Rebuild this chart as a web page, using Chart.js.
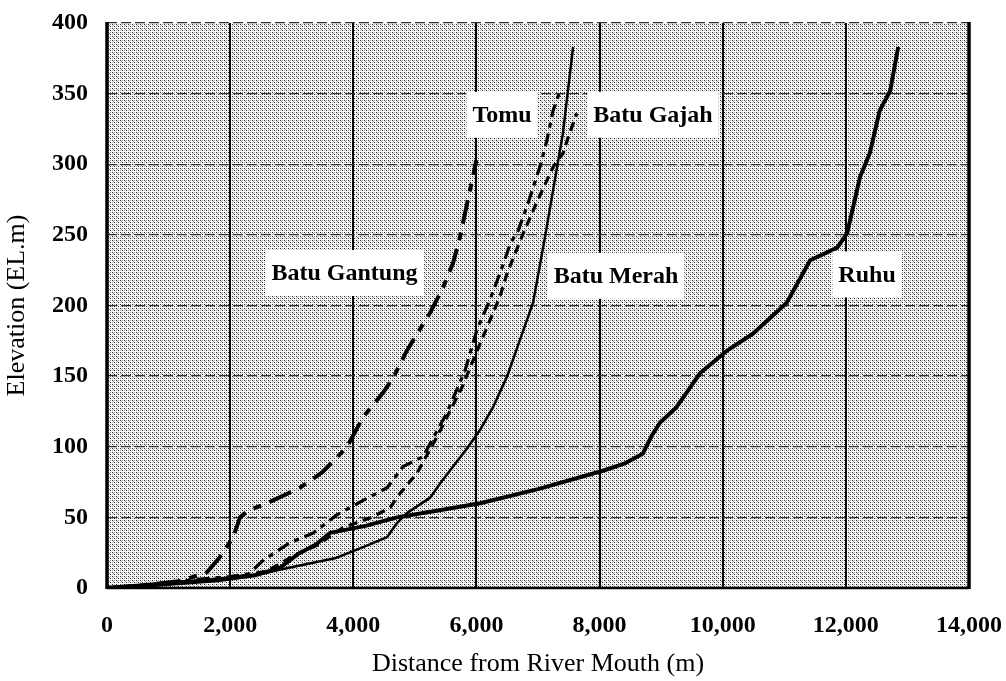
<!DOCTYPE html>
<html>
<head>
<meta charset="utf-8">
<script src="https://cdn.jsdelivr.net/npm/chart.js@4/dist/chart.umd.min.js"></script>
<style>
  html, body { margin: 0; padding: 0; background: #ffffff; }
  #c { display: block; width: 1006px; height: 681px; }
</style>
</head>
<body>
<canvas id="c" width="1006" height="681"></canvas>
<script>
// ---------------- data ----------------
const xTickValues = [0, 2000, 4000, 6000, 8000, 10000, 12000, 14000];
const yTickValues = [0, 50, 100, 150, 200, 250, 300, 350, 400];

const ruhuX = [0, 600, 1200, 1800, 2400, 2800, 3100, 3400, 3620, 4200, 4710, 5400, 6060, 7000, 8055, 8400, 8700, 8850, 8980, 9250, 9630, 10070, 10490, 11040, 11420, 11860, 12020, 12230, 12390, 12550, 12720, 12850];
const ruhuY = [0, 2, 4, 6, 9, 14, 24, 31, 39, 44, 50, 55, 60, 70, 83, 88, 95, 108, 117, 128, 152, 168, 180, 202, 232, 241, 251, 291, 308, 338, 352, 383];

const merahX = [0, 600, 1200, 1800, 2300, 2700, 3250, 3700, 4160, 4550, 4710, 4870, 5250, 5410, 5620, 5850, 6060, 6270, 6500, 6710, 6920, 7120, 7405, 7570];
const merahY = [0, 1, 3, 5, 8, 12, 17, 21, 29, 36, 46, 53, 64, 74, 86, 99, 112, 128, 150, 176, 202, 250, 322, 383];

const gantungX = [0, 600, 1200, 1620, 1835, 2050, 2160, 2300, 2600, 3135, 3500, 3900, 4160, 4480, 4650, 4870, 5080, 5250, 5460, 5620, 5730, 6000];
const gantungY = [0, 2, 5, 11, 22, 36, 50, 55, 60, 71, 82, 100, 121, 138, 149, 168, 183, 195, 213, 230, 248, 303];

const tomuX = [0, 700, 1400, 2000, 2300, 2550, 2970, 3350, 3740, 4160, 4550, 4810, 5132, 5520, 5815, 6010, 6220, 6400, 6560, 6660, 6820, 7030, 7145, 7245, 7360];
const tomuY = [0, 2, 6, 8, 10, 20, 32, 39, 52, 62, 71, 86, 93, 124, 154, 183, 204, 225, 245, 251, 270, 298, 317, 338, 352];

const gajahX = [0, 700, 1400, 2000, 2600, 3000, 3400, 3840, 4300, 4600, 4760, 5030, 5360, 5765, 6060, 6380, 6500, 6760, 7000, 7245, 7410, 7490, 7630];
const gajahY = [0, 2, 5, 7, 12, 22, 30, 43, 50, 57, 67, 81, 107, 142, 173, 206, 223, 251, 275, 298, 308, 319, 336];

// in-plot text labels (data coordinates of the label centre)
const labelNames = ['Tomu', 'Batu Gajah', 'Batu Gantung', 'Batu Merah', 'Ruhu'];
const labelX = [6415, 8868, 3857, 8267, 12344];
const labelY = [335, 335, 223, 221, 222];

// ---------------- helpers ----------------
function toPoints(xs, ys) { return xs.map((x, i) => ({ x: x, y: ys[i] })); }

const SERIF = '"Liberation Serif", "Times New Roman", serif';

// stipple background (ordered dither pattern)
function makePattern(ctx) {
  const bayer = [[0, 8, 2, 10], [12, 4, 14, 6], [3, 11, 1, 9], [15, 7, 13, 5]];
  const pc = document.createElement('canvas');
  pc.width = 4; pc.height = 4;
  const p = pc.getContext('2d');
  for (let i = 0; i < 4; i++) {
    for (let j = 0; j < 4; j++) {
      const v = bayer[i][j];
      p.fillStyle = v < 2 ? '#222222' : (v < 5 ? '#aaaaaa' : '#fafafa');
      p.fillRect(j, i, 1, 1);
    }
  }
  return ctx.createPattern(pc, 'repeat');
}

const backgroundPlugin = {
  id: 'stippleBackground',
  beforeDraw(chart) {
    const { ctx, chartArea: a } = chart;
    ctx.save();
    ctx.fillStyle = '#ffffff';
    ctx.fillRect(0, 0, chart.width, chart.height);
    ctx.fillStyle = makePattern(ctx);
    ctx.fillRect(a.left, a.top, a.right - a.left, a.bottom - a.top);
    ctx.restore();
  }
};

const framePlugin = {
  id: 'frameAndLabels',
  afterDatasetsDraw(chart) {
    const { ctx, chartArea: a, scales } = chart;
    ctx.save();
    ctx.strokeStyle = '#000000';
    ctx.setLineDash([]);
    ctx.lineWidth = 3.5;
    ctx.beginPath();
    ctx.moveTo(a.left, a.top - 1); ctx.lineTo(a.left, a.bottom + 1);
    ctx.moveTo(a.right, a.top - 1); ctx.lineTo(a.right, a.bottom + 1);
    ctx.stroke();
    ctx.lineWidth = 2.5;
    ctx.beginPath();
    ctx.moveTo(a.left, a.bottom); ctx.lineTo(a.right, a.bottom);
    ctx.stroke();

    // text labels with white boxes
    ctx.font = 'bold 24px ' + SERIF;
    ctx.textAlign = 'center';
    ctx.textBaseline = 'middle';
    labelNames.forEach((name, i) => {
      const px = scales.x.getPixelForValue(labelX[i]);
      const py = scales.y.getPixelForValue(labelY[i]);
      const w = ctx.measureText(name).width + 12;
      const h = 46;
      ctx.fillStyle = '#ffffff';
      ctx.fillRect(px - w / 2, py - h / 2, w, h);
      ctx.fillStyle = '#000000';
      ctx.fillText(name, px, py + 1);
    });
    ctx.restore();
  }
};

function lineDataset(label, xs, ys, width, dash) {
  return {
    label: label,
    data: toPoints(xs, ys),
    showLine: true,
    borderColor: '#000000',
    backgroundColor: '#000000',
    borderWidth: width,
    borderDash: dash,
    borderJoinStyle: 'round',
    pointRadius: 0,
    pointHoverRadius: 0,
    fill: false,
    tension: 0
  };
}

new Chart(document.getElementById('c'), {
  type: 'scatter',
  data: {
    datasets: [
      lineDataset('Batu Gantung', gantungX, gantungY, 4, [24, 9, 8, 9]),
      lineDataset('Tomu', tomuX, tomuY, 3.2, [13, 6, 5, 6]),
      lineDataset('Batu Gajah', gajahX, gajahY, 3.2, [9, 6]),
      lineDataset('Batu Merah', merahX, merahY, 2.5, []),
      lineDataset('Ruhu', ruhuX, ruhuY, 4, [])
    ]
  },
  options: {
    responsive: false,
    animation: false,
    devicePixelRatio: 1,
    layout: { padding: { left: 0, right: 37, top: 23, bottom: 0 } },
    plugins: {
      legend: { display: false },
      tooltip: { enabled: false },
      title: { display: false }
    },
    scales: {
      x: {
        type: 'linear',
        min: 0,
        max: 14000,
        afterBuildTicks(scale) { scale.ticks = xTickValues.map(v => ({ value: v })); },
        afterFit(scale) { scale.height = 93; },
        ticks: {
          color: '#000000',
          padding: 0,
          maxRotation: 0,
          font: { family: SERIF, size: 24, weight: 'bold' },
          callback: v => Number(v).toLocaleString('en-US')
        },
        grid: { color: '#000000', lineWidth: 2, drawTicks: true, tickLength: 23, tickColor: 'rgba(0,0,0,0)' },
        border: { display: false, dash: [] },
        title: {
          display: true,
          text: 'Distance from River Mouth (m)',
          color: '#000000',
          font: { family: SERIF, size: 26, weight: 'normal' },
          padding: { top: 0, bottom: 1 }
        }
      },
      y: {
        type: 'linear',
        min: 0,
        max: 400,
        afterBuildTicks(scale) { scale.ticks = yTickValues.map(v => ({ value: v })); },
        afterFit(scale) { scale.width = 107; },
        ticks: {
          color: '#000000',
          padding: 0,
          font: { family: SERIF, size: 24, weight: 'bold' }
        },
        grid: { color: '#333333', lineWidth: 1.3, drawTicks: true, tickLength: 19, tickColor: 'rgba(0,0,0,0)' },
        border: { display: false, dash: [10, 4] },
        title: {
          display: true,
          text: 'Elevation (EL.m)',
          color: '#000000',
          font: { family: SERIF, size: 26, weight: 'normal' },
          padding: { top: 2, bottom: 0 }
        }
      }
    }
  },
  plugins: [backgroundPlugin, framePlugin]
});
</script>
</body>
</html>
